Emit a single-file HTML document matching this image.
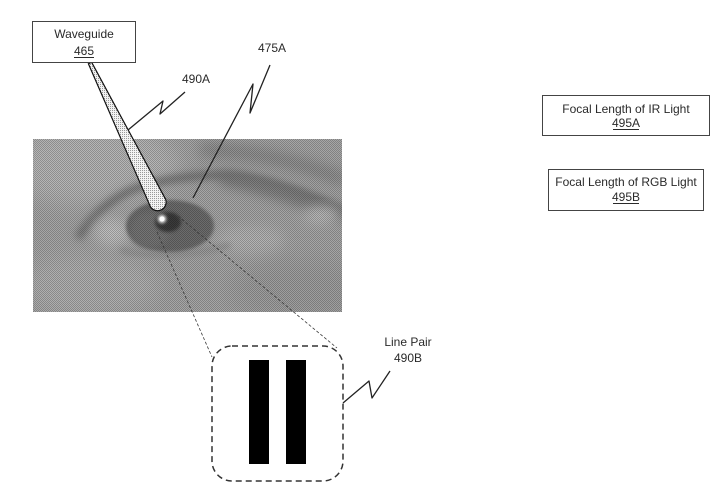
<!DOCTYPE html>
<html><head><meta charset="utf-8"><style>
html,body{margin:0;padding:0;background:#fff;}
svg{display:block;}
text{font-family:"Liberation Sans",Arial,sans-serif;font-size:12px;fill:#2a2a2a;}
</style></head><body>
<svg width="712" height="498" viewBox="0 0 712 498" xmlns="http://www.w3.org/2000/svg">
<defs>
<clipPath id="ph"><rect x="33" y="139" width="309" height="173"/></clipPath>
<filter id="b6" x="-50%" y="-50%" width="200%" height="200%"><feGaussianBlur stdDeviation="6"/></filter>
<filter id="b4" x="-50%" y="-50%" width="200%" height="200%"><feGaussianBlur stdDeviation="4"/></filter>
<filter id="b3" x="-50%" y="-50%" width="200%" height="200%"><feGaussianBlur stdDeviation="3"/></filter>
<filter id="b2" x="-50%" y="-50%" width="200%" height="200%"><feGaussianBlur stdDeviation="1.6"/></filter>
<filter id="b10" x="-50%" y="-50%" width="200%" height="200%"><feGaussianBlur stdDeviation="10"/></filter>
<pattern id="ht" width="2" height="2" patternUnits="userSpaceOnUse">
<rect x="0" y="0" width="1" height="1" fill="#000" opacity="0.22"/>
<rect x="1" y="1" width="1" height="1" fill="#000" opacity="0.22"/>
</pattern>
<pattern id="dots" width="2" height="2" patternUnits="userSpaceOnUse">
<rect width="2" height="2" fill="#f2f2f2"/>
<rect x="0" y="0" width="1" height="1" fill="#999"/>
</pattern>
</defs>

<!-- Photo -->
<g clip-path="url(#ph)">
<rect x="33" y="139" width="309" height="173" fill="#a6a6a6"/>
<ellipse cx="90" cy="165" rx="90" ry="40" fill="#b6b6b6" filter="url(#b10)"/>
<ellipse cx="90" cy="285" rx="70" ry="30" fill="#b0b0b0" filter="url(#b10)"/>
<ellipse cx="300" cy="290" rx="70" ry="30" fill="#9e9e9e" filter="url(#b10)"/>
<!-- upper band darker top right -->
<path d="M200,150 Q270,150 345,180" stroke="#8a8a8a" stroke-width="14" fill="none" filter="url(#b6)"/>
<!-- crease -->
<path d="M78,238 Q105,195 150,184 Q200,172 240,176 Q290,185 345,212" stroke="#6c6c6c" stroke-width="7" fill="none" filter="url(#b4)"/>
<path d="M220,178 Q280,190 345,216" stroke="#787878" stroke-width="12" fill="none" filter="url(#b6)"/>
<!-- light patches -->
<ellipse cx="322" cy="215" rx="18" ry="8" fill="#bebebe" filter="url(#b6)"/>
<ellipse cx="112" cy="232" rx="18" ry="14" fill="#c0c0c0" filter="url(#b6)"/>
<ellipse cx="250" cy="240" rx="35" ry="14" fill="#b4b4b4" filter="url(#b6)"/>
<!-- lower lid shading -->
<path d="M120,250 Q170,262 230,245" stroke="#969696" stroke-width="6" fill="none" filter="url(#b3)"/>
<!-- iris -->
<ellipse cx="170" cy="226" rx="44" ry="26" fill="#6c6c6c" filter="url(#b2)"/>
<ellipse cx="150" cy="230" rx="20" ry="18" fill="#747474" filter="url(#b3)"/>
<!-- pupil -->
<ellipse cx="168" cy="222" rx="13" ry="10" fill="#3a3a3a" filter="url(#b2)"/>
<rect x="33" y="139" width="309" height="173" fill="url(#ht)"/>
</g>

<!-- dashed projection lines -->
<line x1="157" y1="232" x2="212" y2="357" stroke="#3a3a3a" stroke-width="0.8" stroke-dasharray="3 2"/>
<line x1="178" y1="216" x2="337" y2="348" stroke="#3a3a3a" stroke-width="0.8" stroke-dasharray="3 2"/>

<!-- Waveguide cone -->
<path d="M88.4,63.8 L150.4,206.7 A8.5,8.5 0 0 0 165.6,199.3 L91.6,62.2 Z" fill="url(#dots)" stroke="#111" stroke-width="1.2"/>
<circle cx="162" cy="219" r="4" fill="#fff" filter="url(#b2)"/>
<circle cx="162" cy="219" r="2.5" fill="#fff"/>

<!-- Waveguide box -->
<rect x="32.5" y="21.5" width="103" height="41" fill="#fff" stroke="#444" stroke-width="1"/>
<text x="84" y="38" text-anchor="middle">Waveguide</text>
<text x="84" y="55" text-anchor="middle">465</text>
<line x1="74" y1="57.5" x2="94" y2="57.5" stroke="#2a2a2a" stroke-width="1"/>

<!-- 490A label -->
<text x="196" y="83" text-anchor="middle">490A</text>
<path d="M185,92 L160,114 L163,101 L128,130" stroke="#222" stroke-width="1.3" fill="none" stroke-linejoin="round"/>

<!-- 475A label -->
<text x="272" y="52" text-anchor="middle">475A</text>
<path d="M270,65 L250,113 L253,84 L193,198" stroke="#222" stroke-width="1.3" fill="none" stroke-linejoin="round"/>

<!-- Right boxes -->
<rect x="542.5" y="95.5" width="167" height="40" fill="#fff" stroke="#444" stroke-width="1"/>
<text x="626" y="113" text-anchor="middle">Focal Length of IR Light</text>
<text x="626" y="127" text-anchor="middle">495A</text>
<line x1="613" y1="129.5" x2="639" y2="129.5" stroke="#2a2a2a" stroke-width="1"/>

<rect x="548.5" y="169.5" width="155" height="41" fill="#fff" stroke="#444" stroke-width="1"/>
<text x="626" y="186" text-anchor="middle">Focal Length of RGB Light</text>
<text x="626" y="201" text-anchor="middle">495B</text>
<line x1="613" y1="203.5" x2="639" y2="203.5" stroke="#2a2a2a" stroke-width="1"/>

<!-- Dashed line pair box -->
<rect x="212" y="346" width="131" height="135" rx="20" ry="20" fill="none" stroke="#333" stroke-width="1.5" stroke-dasharray="6 4"/>
<rect x="249" y="360" width="20" height="104" fill="#000"/>
<rect x="286" y="360" width="20" height="104" fill="#000"/>

<!-- Line Pair label -->
<text x="408" y="346" text-anchor="middle">Line Pair</text>
<text x="408" y="362" text-anchor="middle">490B</text>
<path d="M390,371 L372,398 L369,381 L343,403" stroke="#222" stroke-width="1.3" fill="none" stroke-linejoin="round"/>
</svg>
</body></html>
